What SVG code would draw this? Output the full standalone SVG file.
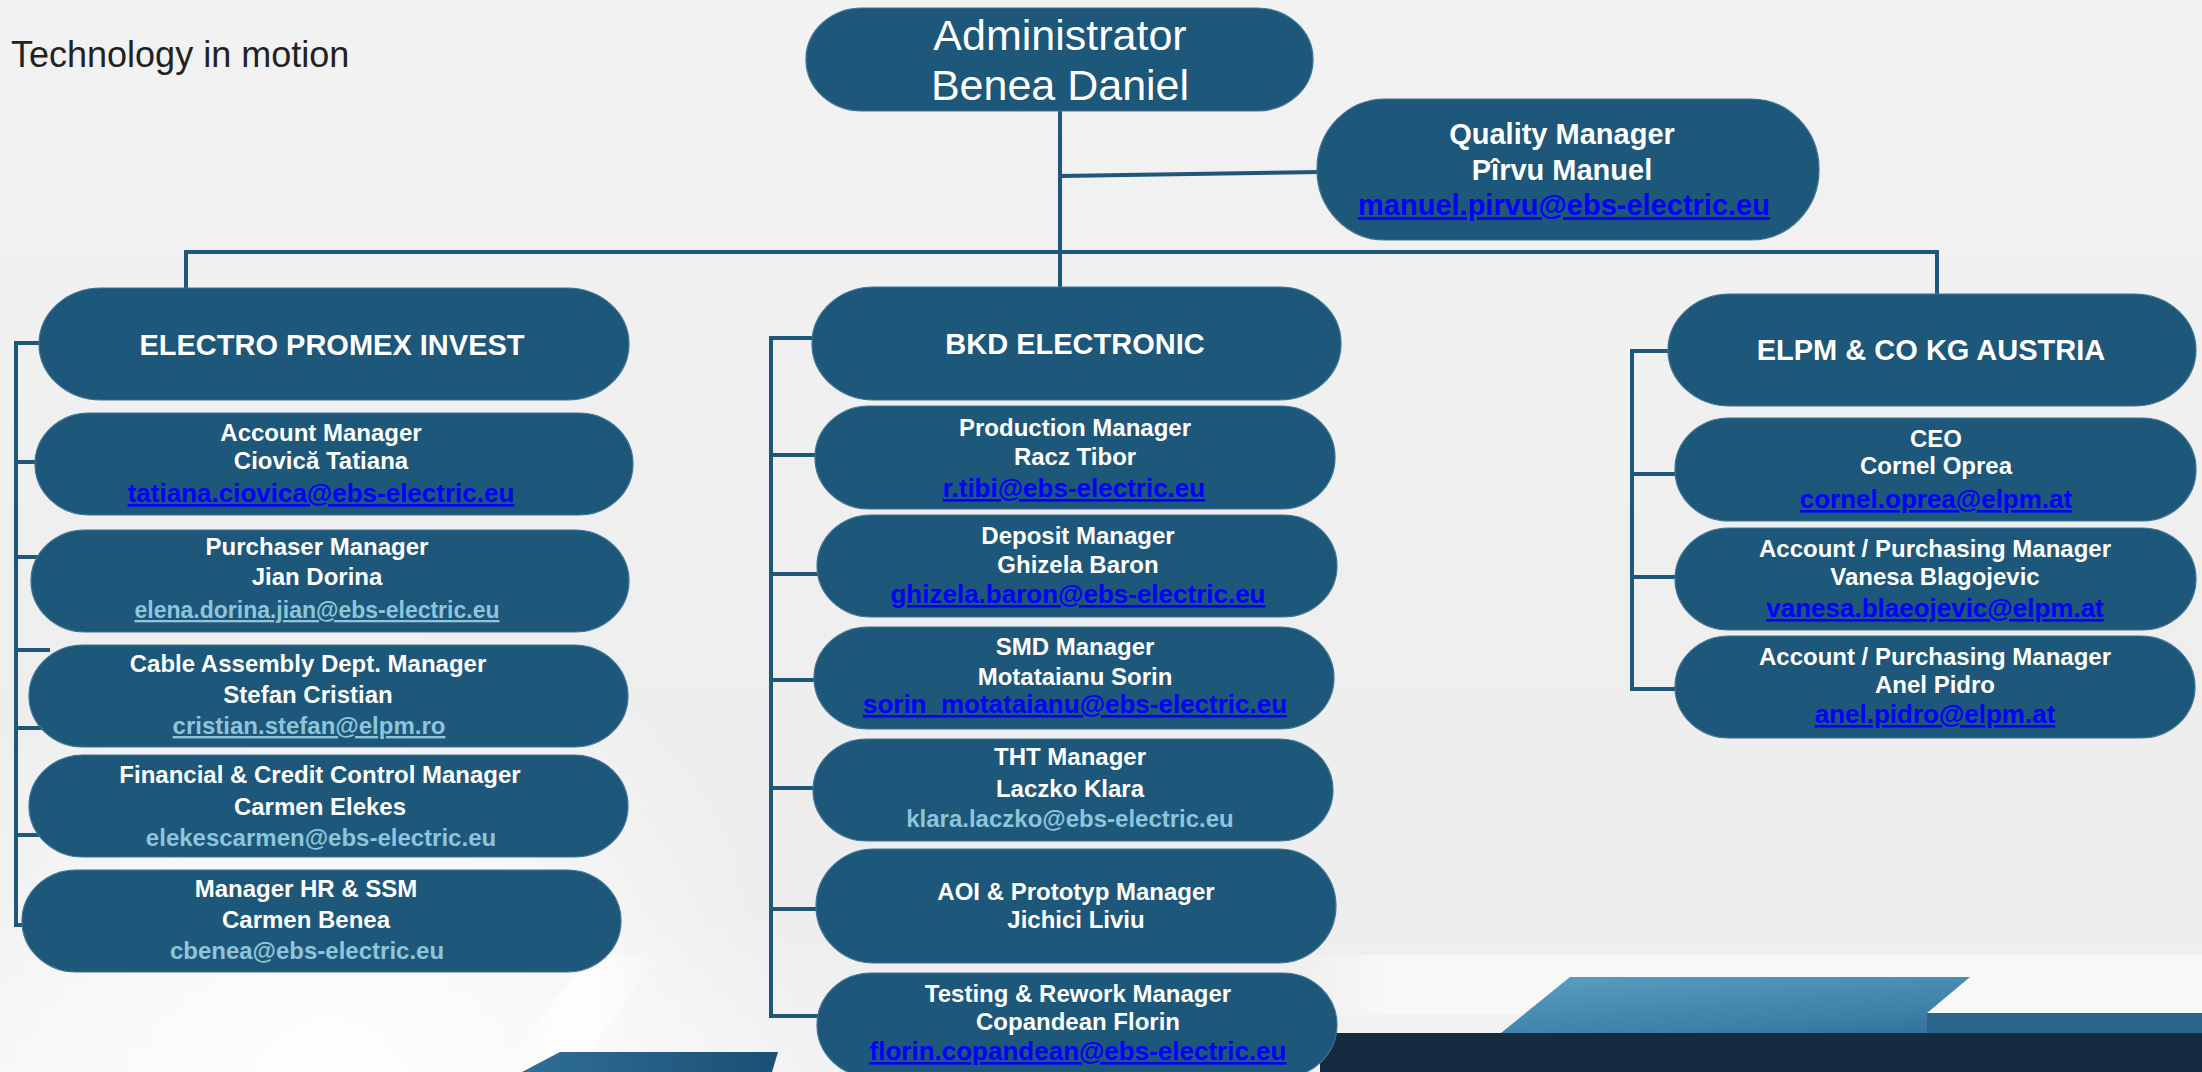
<svg xmlns="http://www.w3.org/2000/svg" width="2202" height="1072" viewBox="0 0 2202 1072">
<defs>
<linearGradient id="bg" x1="0" y1="0" x2="0" y2="1">
<stop offset="0" stop-color="#F2F2F2"/>
<stop offset="0.85" stop-color="#EDEDED"/>
<stop offset="1" stop-color="#F3F3F3"/>
</linearGradient>
<linearGradient id="blueTex" x1="0" y1="0" x2="1" y2="1">
<stop offset="0" stop-color="#5A9EC2"/>
<stop offset="0.6" stop-color="#3D80A8"/>
<stop offset="1" stop-color="#2A648C"/>
</linearGradient>
<linearGradient id="blueL" x1="0" y1="0" x2="1" y2="0">
<stop offset="0" stop-color="#2F6E97"/>
<stop offset="1" stop-color="#1C4F74"/>
</linearGradient>
<radialGradient id="whiteR" cx="330" cy="1072" r="480" gradientUnits="userSpaceOnUse">
<stop offset="0" stop-color="#FFFFFF" stop-opacity="0.9"/>
<stop offset="0.6" stop-color="#FFFFFF" stop-opacity="0.5"/>
<stop offset="1" stop-color="#FFFFFF" stop-opacity="0"/>
</radialGradient>
<linearGradient id="streak" x1="0" y1="0" x2="1" y2="0">
<stop offset="0" stop-color="#FFFFFF" stop-opacity="0"/>
<stop offset="0.5" stop-color="#FFFFFF" stop-opacity="0.9"/>
<stop offset="1" stop-color="#FFFFFF" stop-opacity="0"/>
</linearGradient>
<linearGradient id="band" x1="0" y1="0" x2="1" y2="0">
<stop offset="0" stop-color="#F8F8F8" stop-opacity="0"/>
<stop offset="0.1" stop-color="#F8F8F8" stop-opacity="1"/>
<stop offset="1" stop-color="#F8F8F8" stop-opacity="1"/>
</linearGradient>
</defs>
<style>
.box{fill:#1D5779;stroke:#3E7396;stroke-width:1.2}
.ln{fill:none;stroke:#1D5779;stroke-width:4}
text{font-family:"Liberation Sans",Arial,sans-serif;text-anchor:middle}
.t{fill:#FFFFFF;font-weight:bold;font-size:24px}
.h{fill:#FFFFFF;font-weight:bold;font-size:29px}
.lk{fill:#0000FF;font-weight:bold;font-size:26px;text-decoration:underline}
.lb{fill:#8EC5DA;font-weight:bold;font-size:24px}
.lbu{fill:#8EC5DA;font-weight:bold;font-size:24px;text-decoration:underline}
</style>
<rect x="0" y="0" width="2202" height="1072" fill="url(#bg)"/>
<!-- bottom decorations -->
<rect x="0" y="590" width="820" height="482" fill="url(#whiteR)"/>
<polygon points="590,955 660,955 575,1072 500,1072" fill="url(#streak)"/>
<polygon points="560,1052 778,1052 772,1072 522,1072" fill="url(#blueL)"/>
<rect x="1300" y="955" width="902" height="60" fill="url(#band)"/>
<polygon points="1570,977 1970,977 1927,1013 2202,1013 2202,1033 1501,1033" fill="url(#blueTex)"/>
<rect x="1927" y="1013" width="275" height="20" fill="#2B658C"/>
<rect x="1320" y="1033" width="882" height="39" fill="#152B40"/>
<text x="11" y="67" style="font-size:36px;fill:#222222;text-anchor:start">Technology in motion</text>
<g id="connectors">
<path class="ln" d="M1060 111 V290"/>
<path class="ln" d="M1060 176 L1320 172"/>
<path class="ln" d="M186 290 V252 H1937 V296"/>
<path class="ln" d="M45 343 H16 V925 H30 M16 462 H45 M16 557 H45 M16 650 H50 M16 728 H45 M16 835 H45"/>
<path class="ln" d="M820 338 H771 V1016 H825 M771 455 H825 M771 574 H825 M771 680 H825 M771 788 H825 M771 909 H825"/>
<path class="ln" d="M1675 351 H1632 V689 H1682 M1632 474 H1682 M1632 577 H1682"/>
</g>
<g id="admin">
<rect class="box" x="806" y="8" width="507" height="103" rx="56" ry="51"/>
<text x="1060" y="50" style="fill:#FFFFFF;font-size:43px">Administrator</text>
<text x="1060" y="100" style="fill:#FFFFFF;font-size:43px">Benea Daniel</text>
</g>
<g id="quality">
<rect class="box" x="1317" y="99" width="502" height="141" rx="68" ry="70"/>
<text class="t" x="1562" y="144" style="font-size:29px">Quality Manager</text>
<text class="t" x="1562" y="180" style="font-size:29px">Pîrvu Manuel</text>
<text class="lk" x="1564" y="215" style="font-size:29px">manuel.pirvu@ebs-electric.eu</text>
</g>
<g id="electro">
<rect class="box" x="39" y="288" width="590" height="112" rx="62" ry="56"/>
<text class="h" x="332" y="355">ELECTRO PROMEX INVEST</text>
</g>
<g id="account">
<rect class="box" x="35" y="413" width="598" height="102" rx="54" ry="51"/>
<text class="t" x="321" y="441">Account Manager</text>
<text class="t" x="321" y="469">Ciovică Tatiana</text>
<text class="lk" x="321" y="502">tatiana.ciovica@ebs-electric.eu</text>
</g>
<g id="purchaser">
<rect class="box" x="31" y="530" width="598" height="102" rx="54" ry="51"/>
<text class="t" x="317" y="555">Purchaser Manager</text>
<text class="t" x="317" y="585">Jian Dorina</text>
<text class="lbu" x="317" y="618" style="font-size:23px">elena.dorina.jian@ebs-electric.eu</text>
</g>
<g id="cable">
<rect class="box" x="29" y="645" width="599" height="102" rx="54" ry="51"/>
<text class="t" x="308" y="672">Cable Assembly Dept. Manager</text>
<text class="t" x="308" y="703">Stefan Cristian</text>
<text class="lbu" x="309" y="734">cristian.stefan@elpm.ro</text>
</g>
<g id="financial">
<rect class="box" x="29" y="755" width="599" height="102" rx="54" ry="51"/>
<text class="t" x="320" y="783">Financial &amp; Credit Control Manager</text>
<text class="t" x="320" y="815">Carmen Elekes</text>
<text class="lb" x="321" y="846">elekescarmen@ebs-electric.eu</text>
</g>
<g id="hr">
<rect class="box" x="22" y="870" width="599" height="102" rx="54" ry="51"/>
<text class="t" x="306" y="897">Manager HR &amp; SSM</text>
<text class="t" x="306" y="928">Carmen Benea</text>
<text class="lb" x="307" y="959">cbenea@ebs-electric.eu</text>
</g>
<g id="bkd">
<rect class="box" x="812" y="287" width="529" height="113" rx="62" ry="56"/>
<text class="h" x="1075" y="354">BKD ELECTRONIC</text>
</g>
<g id="production">
<rect class="box" x="815" y="406" width="520" height="103" rx="54" ry="51"/>
<text class="t" x="1075" y="436">Production Manager</text>
<text class="t" x="1075" y="465">Racz Tibor</text>
<text class="lk" x="1074" y="497">r.tibi@ebs-electric.eu</text>
</g>
<g id="deposit">
<rect class="box" x="817" y="515" width="520" height="102" rx="54" ry="51"/>
<text class="t" x="1078" y="544">Deposit Manager</text>
<text class="t" x="1078" y="573">Ghizela Baron</text>
<text class="lk" x="1078" y="603">ghizela.baron@ebs-electric.eu</text>
</g>
<g id="smd">
<rect class="box" x="814" y="627" width="520" height="102" rx="54" ry="51"/>
<text class="t" x="1075" y="655">SMD Manager</text>
<text class="t" x="1075" y="685">Motataianu Sorin</text>
<text class="lk" x="1075" y="713">sorin_motataianu@ebs-electric.eu</text>
</g>
<g id="tht">
<rect class="box" x="813" y="739" width="520" height="102" rx="54" ry="51"/>
<text class="t" x="1070" y="765">THT Manager</text>
<text class="t" x="1070" y="797">Laczko Klara</text>
<text class="lb" x="1070" y="827">klara.laczko@ebs-electric.eu</text>
</g>
<g id="aoi">
<rect class="box" x="816" y="849" width="520" height="114" rx="58" ry="57"/>
<text class="t" x="1076" y="900">AOI &amp; Prototyp Manager</text>
<text class="t" x="1076" y="928">Jichici Liviu</text>
</g>
<g id="testing">
<rect class="box" x="817" y="973" width="520" height="104" rx="54" ry="52"/>
<text class="t" x="1078" y="1002">Testing &amp; Rework Manager</text>
<text class="t" x="1078" y="1030">Copandean Florin</text>
<text class="lk" x="1078" y="1060">florin.copandean@ebs-electric.eu</text>
</g>
<g id="elpm">
<rect class="box" x="1668" y="294" width="528" height="112" rx="62" ry="56"/>
<text class="h" x="1931" y="360">ELPM &amp; CO KG AUSTRIA</text>
</g>
<g id="ceo">
<rect class="box" x="1675" y="418" width="521" height="103" rx="54" ry="51"/>
<text class="t" x="1936" y="447">CEO</text>
<text class="t" x="1936" y="474">Cornel Oprea</text>
<text class="lk" x="1936" y="508">cornel.oprea@elpm.at</text>
</g>
<g id="vanesa">
<rect class="box" x="1675" y="528" width="521" height="102" rx="54" ry="51"/>
<text class="t" x="1935" y="557">Account / Purchasing Manager</text>
<text class="t" x="1935" y="585">Vanesa Blagojevic</text>
<text class="lk" x="1935" y="617">vanesa.blaeojevic@elpm.at</text>
</g>
<g id="anel">
<rect class="box" x="1675" y="636" width="520" height="102" rx="54" ry="51"/>
<text class="t" x="1935" y="665">Account / Purchasing Manager</text>
<text class="t" x="1935" y="693">Anel Pidro</text>
<text class="lk" x="1935" y="723">anel.pidro@elpm.at</text>
</g>
</svg>
